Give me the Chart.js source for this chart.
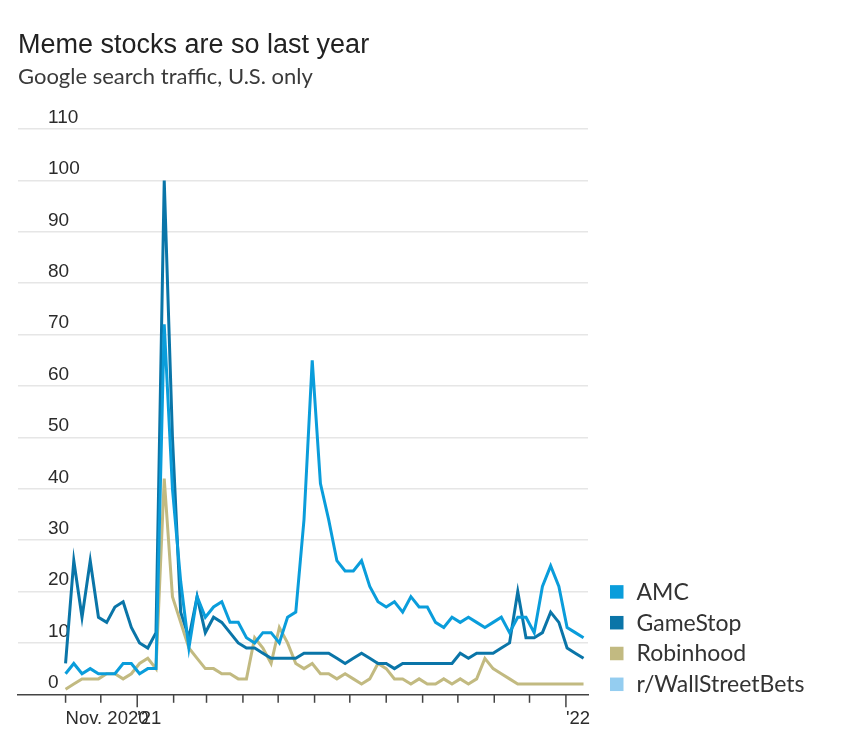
<!DOCTYPE html>
<html>
<head>
<meta charset="utf-8">
<script src="https://cdn.jsdelivr.net/npm/chart.js@4.4.1/dist/chart.umd.min.js"></script>
<style>
  html, body { margin: 0; padding: 0; background: #ffffff; }
  canvas { display: block; }
</style>
</head>
<body>
<canvas id="chart" width="854" height="731"></canvas>
<script>
// ---------------- DATA ----------------
const titleText = "Meme stocks are so last year";
const subtitleText = "Google search traffic, U.S. only";

// Weekly Google Trends observations (week starting Sunday)
const weeks = [
  "2020-11-01","2020-11-08","2020-11-15","2020-11-22","2020-11-29","2020-12-06","2020-12-13","2020-12-20","2020-12-27",
  "2021-01-03","2021-01-10","2021-01-17","2021-01-24","2021-01-31","2021-02-07","2021-02-14","2021-02-21","2021-02-28",
  "2021-03-07","2021-03-14","2021-03-21","2021-03-28","2021-04-04","2021-04-11","2021-04-18","2021-04-25",
  "2021-05-02","2021-05-09","2021-05-16","2021-05-23","2021-05-30","2021-06-06","2021-06-13","2021-06-20","2021-06-27",
  "2021-07-04","2021-07-11","2021-07-18","2021-07-25","2021-08-01","2021-08-08","2021-08-15","2021-08-22","2021-08-29",
  "2021-09-05","2021-09-12","2021-09-19","2021-09-26","2021-10-03","2021-10-10","2021-10-17","2021-10-24","2021-10-31",
  "2021-11-07","2021-11-14","2021-11-21","2021-11-28","2021-12-05","2021-12-12","2021-12-19","2021-12-26",
  "2022-01-02","2022-01-09","2022-01-16"
];

const amc = [
  4, 6, 4, 5, 4, 4, 4, 6, 6, 4, 5, 5,
  72, 40, 22, 9,
  19, 15, 17, 18, 14, 14, 11, 10, 12, 12, 10, 15, 16,
  34, 65, 41, 34, 26, 24, 24, 26, 21, 18, 17, 18,
  16, 19, 17, 17, 14, 13, 15, 14, 15, 14, 13, 14,
  15, 12, 15, 15, 12, 21, 25, 21, 13, 12, 11
];

const gameStop = [
  6, 26, 15, 26, 15, 14, 17, 18, 13, 10, 9, 12,
  100, 50, 16, 11,
  19, 12, 15, 14, 12, 10, 9, 9, 8, 7, 7, 7, 7,
  8, 8, 8, 8, 7, 6, 7, 8, 7, 6, 6, 5,
  6, 6, 6, 6, 6, 6, 6, 8, 7, 8, 8, 8,
  9, 10, 20, 11, 11, 12, 16, 14, 9, 8, 7
];

const robinhood = [
  1, 2, 3, 3, 3, 4, 4, 3, 4, 6, 7, 5,
  42, 19, 14, 9,
  7, 5, 5, 4, 4, 3, 3, 11, 9, 6, 13, 10, 6,
  5, 6, 4, 4, 3, 4, 3, 2, 3, 6, 5, 3,
  3, 2, 3, 2, 2, 3, 2, 3, 2, 3, 7, 5,
  4, 3, 2, 2, 2, 2, 2, 2, 2, 2, 2
];

// r/WallStreetBets appears in the key but no line is drawn for it in the reference
const wallStreetBets = [];

const seriesNames = ["AMC", "GameStop", "Robinhood", "r/WallStreetBets"];
const seriesColors = ["#0a9ddb", "#0a75a8", "#c2ba81", "#94cdf0"];

// x-axis month ticks and their labels
const monthTicks = [
  "2020-11-01","2020-12-01","2021-01-01","2021-02-01","2021-03-01","2021-04-01","2021-05-01","2021-06-01",
  "2021-07-01","2021-08-01","2021-09-01","2021-10-01","2021-11-01","2021-12-01","2022-01-01"
];
const monthLabels = ["Nov. 2020","","'21","","","","","","","","","","","","'22"];
const yearStarts = ["2021-01-01","2022-01-01"];

const yMin = 0, yMax = 110, yStep = 10;

// ---------------- HELPERS ----------------
const ORIGIN = Date.parse("2020-11-01T00:00:00Z");
const dayOf = s => (Date.parse(s + "T00:00:00Z") - ORIGIN) / 86400000;
const toPoints = vals => vals.map((v, i) => ({ x: dayOf(weeks[i]), y: v }));
const seriesValues = [amc, gameStop, robinhood, wallStreetBets];

const datasets = seriesNames.map((name, i) => ({
  label: name,
  data: toPoints(seriesValues[i]),
  borderColor: seriesColors[i],
  backgroundColor: seriesColors[i],
  borderWidth: 3,
  pointRadius: 0,
  pointHoverRadius: 0,
  tension: 0,
  fill: false,
  borderJoinStyle: 'miter'
}));

const textDark = '#2b2b2b';

// Custom drawing: x tick marks and the key
const extras = {
  id: 'extras',
  afterDraw(chart) {
    const ctx = chart.ctx;
    const xs = chart.scales.x;
    const area = chart.chartArea;
    ctx.save();
    // tick marks below the axis
    ctx.strokeStyle = '#444444';
    ctx.lineWidth = 1.5;
    monthTicks.forEach(d => {
      const px = xs.getPixelForValue(dayOf(d));
      const major = yearStarts.includes(d);
      ctx.beginPath();
      ctx.moveTo(px, area.bottom);
      ctx.lineTo(px, area.bottom + (major ? 13 : 8.5));
      ctx.stroke();
    });
    // key
    const n = chart.data.datasets.length;
    const rowGap = 30.8;
    ctx.font = '23px Lato';
    ctx.textBaseline = 'middle';
    ctx.textAlign = 'left';
    chart.data.datasets.forEach((ds, i) => {
      const cy = area.bottom - 10 - (n - 1 - i) * rowGap;
      ctx.fillStyle = ds.borderColor;
      ctx.fillRect(610, cy - 6.75, 13.5, 13.5);
      ctx.fillStyle = '#333333';
      ctx.fillText(ds.label, 636.5, cy + 0.5);
    });
    ctx.restore();
  }
};

new Chart(document.getElementById('chart'), {
  type: 'line',
  data: { datasets },
  plugins: [extras],
  options: {
    responsive: false,
    animation: false,
    events: [],
    layout: { padding: { left: 18, right: 266, top: 0, bottom: 0 } },
    plugins: {
      legend: { display: false },
      tooltip: { enabled: false },
      title: {
        display: true,
        text: titleText,
        align: 'start',
        color: '#222222',
        font: { family: "'Liberation Sans', Arial, sans-serif", size: 27, weight: 'normal', lineHeight: 1.2 },
        padding: { top: 29.4, bottom: 0 }
      },
      subtitle: {
        display: true,
        text: subtitleText,
        align: 'start',
        color: '#3a3a3a',
        font: { family: "Lato, sans-serif", size: 22, weight: 'normal', lineHeight: 1.2 },
        padding: { top: 2.0, bottom: 38.9 }
      }
    },
    scales: {
      x: {
        type: 'linear',
        min: -40.5,
        max: 444.8,
        afterBuildTicks: scale => {
          scale.ticks = monthTicks.map(d => ({ value: dayOf(d) }));
        },
        afterFit: scale => {
          scale.height = 36.7;
          scale.paddingLeft = 0;
          scale.paddingRight = 0;
        },
        grid: { display: false, drawTicks: false },
        border: { display: true, color: '#444444', width: 1.5 },
        ticks: {
          autoSkip: false,
          maxRotation: 0,
          minRotation: 0,
          align: 'start',
          padding: 14,
          color: textDark,
          font: { family: "'Liberation Sans', Arial, sans-serif", size: 18.5 },
          callback: (value, index) => monthLabels[index]
        }
      },
      y: {
        type: 'linear',
        position: 'left',
        min: yMin,
        max: yMax,
        afterFit: scale => {
          scale.width = 0;
          scale.paddingTop = 0;
          scale.paddingBottom = 0;
        },
        grid: {
          color: ctx => (ctx.tick && ctx.tick.value === 0 ? 'rgba(0,0,0,0)' : '#e6e6e6'),
          lineWidth: 1.5,
          drawTicks: false
        },
        border: { display: false },
        ticks: {
          stepSize: yStep,
          mirror: true,
          padding: 30,
          labelOffset: -11.5,
          color: textDark,
          font: { family: "'Liberation Sans', Arial, sans-serif", size: 19 }
        }
      }
    }
  }
});
</script>
</body>
</html>
